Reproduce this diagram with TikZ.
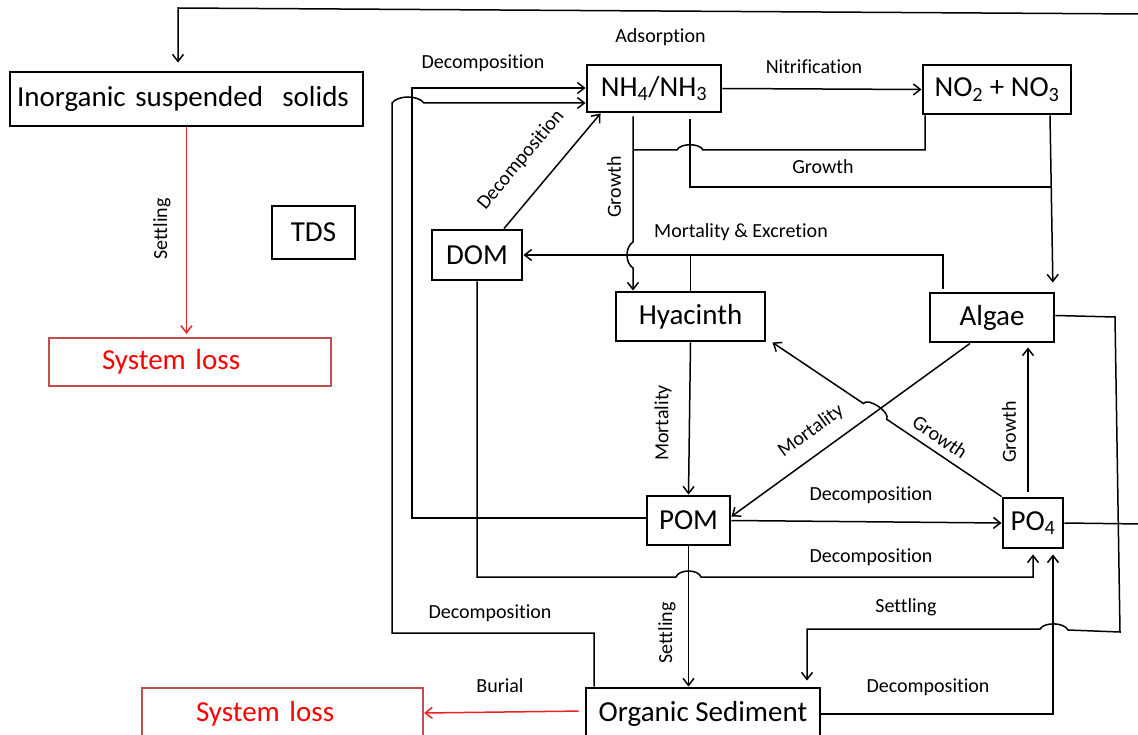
\documentclass[tikz,border=0pt]{standalone}
\usepackage{fontspec}
\setmainfont{Carlito}[Ligatures={TeX,NoCommon}]
\usetikzlibrary{arrows.meta,calc}
\definecolor{lossred}{RGB}{255,0,0}
\definecolor{lossframe}{RGB}{192,80,77}
\definecolor{burialred}{RGB}{232,36,36}

\begin{document}
\begin{tikzpicture}[x=1pt,y=-1pt,
  big/.style={font=\fontsize{29}{34}\selectfont},
  lbl/.style={font=\fontsize{20}{24}\selectfont, inner sep=0pt},
  box/.style={draw, line width=2.9pt, inner sep=0pt, big},
  lossbox/.style={draw=lossframe, line width=2.2pt, text=lossred, big, align=left, inner ysep=0pt},
  flow/.style={line width=1.5pt},
  arr/.style={flow, -{Straight Barb[length=7pt,width=11pt]}},
  redarr/.style={arr, draw=burialred},
]
\useasboundingbox (0,0) rectangle (1138,735);
\clip (0,0) rectangle (1138,735);

% ---- compartments ----
\node[box, minimum width=353, minimum height=54, align=left, text width=339pt, inner xsep=7pt] (iss) at (186.5,99) {Inorganic suspended\ \ solids};
\node[box, minimum width=83, minimum height=53] (tds) at (313.5,232.5) {TDS};
\node[lossbox, minimum height=48, inner xsep=53pt, text width=176pt] (loss1) at (190,362) {System loss};
\node[box, minimum width=134, minimum height=47] (nh4) at (654,88.5) {NH\textsubscript{4}/NH\textsubscript{3}};
\node[box, minimum width=148, minimum height=49] (no2) at (997,89.5) {NO\textsubscript{2} + NO\textsubscript{3}};
\node[box, minimum width=90, minimum height=50] (dom) at (477,255) {DOM};
\node[box, minimum width=149, minimum height=49] (hya) at (690.5,316.5) {Hyacinth};
\node[box, minimum width=124, minimum height=49] (alg) at (992,317.5) {Algae};
\node[box, minimum width=83, minimum height=49] (pom) at (688.5,520.5) {POM};
\node[box, minimum width=60, minimum height=50] (po4) at (1033,523) {PO\textsubscript{4}};
\node[box, minimum width=234, minimum height=52] (sed) at (703,714) {Organic Sediment};
\node[lossbox, minimum height=52, inner xsep=54pt, text width=173pt] (loss2) at (282.5,714) {System loss};

% ---- junction points ----
\coordinate (jH) at (633,150);
\coordinate (jA) at (1051,187);
\coordinate (jM) at (690.5,255);

% ---- flows ----
% adsorption: PO4 round the right edge back to inorganic solids
\draw[arr, shorten >=8pt] (po4.east) -- (1142,524) -- (1142,14) -- (178,8) -- ([xshift=-8.5pt]iss.north);
\draw[redarr, shorten >=3pt] (iss.south) -- (loss1.north -| iss.south);

% decomposition into ammonium
\draw[arr] ([yshift=2.5pt]pom.west) -| (412,88) -- ([yshift=0.5pt]nh4.west);
\draw[arr] ([xshift=-109pt]sed.north) -- (594,633) -- (392,633) -- (392,103)
  .. controls (398,95) and (418,95) .. (424,103) -- ([yshift=-14.5pt]nh4.west);
\draw[arr] ([xshift=27pt]dom.north) -- ([xshift=15pt]nh4.south west);

% nitrification
\draw[arr] (nh4.east) -- (no2.west);

% uptake by hyacinth
\draw[arr] ([xshift=-21pt,yshift=-3pt]nh4.south) -- (633,242)
  .. controls (625,247) and (625,263) .. (633,268) -- ([xshift=-57.5pt]hya.north);
\draw[flow] ([xshift=-72pt]no2.south) -- (925,150) -- (703,150)
  .. controls (700,143) and (680,143) .. (677,150) -- (jH);

% uptake by algae
\draw[flow] ([xshift=36pt,yshift=-6pt]nh4.south) -- (690,187) -- (jA);
\draw[arr, shorten >=9pt] ([xshift=53pt]no2.south) -- ([xshift=61pt]alg.north);

% mortality and excretion to DOM
\draw[arr] ([xshift=-49pt,yshift=3pt]alg.north) -- (943,255) -- (dom.east);
\draw[flow] (hya.north) -- (jM);

% mortality to POM
\draw[arr] (hya.south) -- (pom.north);
\draw[arr] ([xshift=-22pt]alg.south) -- ([yshift=4pt]pom.east);

% phosphate uptake
\draw[arr] (po4.north west) -- (886.6,419.2)
  .. controls (891.1,412.6) and (867.9,396.9) .. (863.4,403.5) -- ([xshift=6pt]hya.south east);
\draw[arr, shorten >=4pt] ([xshift=-5pt,yshift=5pt]po4.north) -- ([xshift=36pt]alg.south);

% decomposition into phosphate
\draw[arr] (pom.east) -- (po4.west);
\draw[arr, shorten >=5pt] (dom.south) -- (477,577) -- (676,577)
  .. controls (679,569) and (698,569) .. (701,577) -- (1033,577) -- (po4.south);
\draw[arr, shorten >=5pt] (sed.east) -- (1053,714) -- ([xshift=20pt]po4.south);

% settling
\draw[arr, shorten >=6pt] ([yshift=2pt]alg.east) -- (1115,317) -- (1120,632) -- (1068,630)
  .. controls (1064,622) and (1044,622) .. (1040,629) -- (807,629) -- ([xshift=104pt]sed.north);
\draw[arr] (pom.south) -- ([xshift=-14.5pt]sed.north);

% burial
\draw[redarr, shorten <=6pt] ([yshift=3pt]sed.west) -- ([yshift=1pt]loss2.east);

% ---- process labels ----
\node[lbl] (tAds) at (660.5,37) {Adsorption};
\node[lbl] (tDec1) at (483,63) {Decomposition};
\node[lbl] (tNit) at (814,67) {Nitrification};
\node[lbl] (tGr1) at (823,167) {Growth};
\node[lbl, rotate=90] (tGr2) at (614,187) {Growth};
\node[lbl, rotate=50] (tDec2) at (521,160) {Decomposition};
\node[lbl] (tMort1) at (741,232) {Mortality \& Excretion};
\node[lbl, rotate=90] (tMort2) at (663,423) {Mortality};
\node[lbl, rotate=36] (tMort3) at (811,431) {Mortality};
\node[lbl, rotate=-34] (tGr3) at (940,437) {Growth};
\node[lbl, rotate=90] (tGr4) at (1009,432) {Growth};
\node[lbl] (tDec3) at (871,495) {Decomposition};
\node[lbl] (tDec4) at (871,557) {Decomposition};
\node[lbl] (tDec5) at (490,613) {Decomposition};
\node[lbl, rotate=90] (tSet1) at (667,633) {Settling};
\node[lbl] (tSet2) at (906,607) {Settling};
\node[lbl] (tDec6) at (928,687) {Decomposition};
\node[lbl] (tBur) at (500,686) {Burial};
\node[lbl, rotate=90] (tSet3) at (162,229) {Settling};
\end{tikzpicture}
\end{document}
